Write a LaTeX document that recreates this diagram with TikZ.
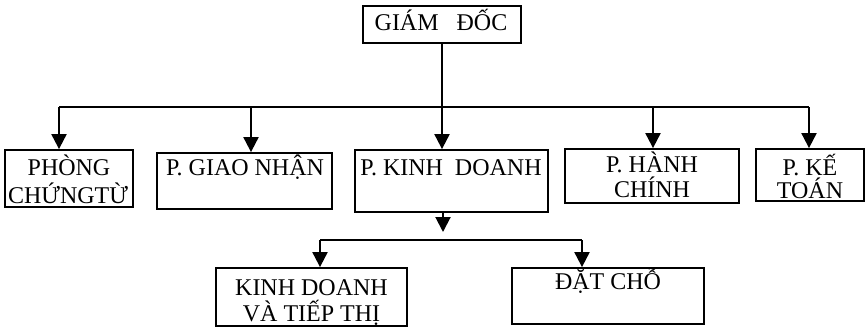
\documentclass[tikz,border=0pt]{standalone}
\usepackage{fontspec}
\setmainfont{Liberation Serif}
\usetikzlibrary{arrows.meta}
\tikzset{
  box/.style={draw, line width=1.8pt, rectangle, inner sep=0pt},
  lbl/.style={anchor=base, inner sep=0pt, font=\fontsize{24}{27}\selectfont},
  conn/.style={line width=2pt},
  arr/.style={line width=2pt, -{Triangle[width=15pt,length=15pt]}}
}
\begin{document}
\begin{tikzpicture}[x=1pt,y=-1pt]
\useasboundingbox (0,0) rectangle (866,327);
% boxes
\node[box, minimum width=158pt, minimum height=37pt] (gd) at (442,24.5) {};
\node[box, minimum width=128pt, minimum height=57pt] (pc) at (69,178.5) {};
\node[box, minimum width=175pt, minimum height=56pt] (gn) at (244.5,181) {};
\node[box, minimum width=193pt, minimum height=62pt] (kd) at (451.5,181) {};
\node[box, minimum width=174pt, minimum height=54pt] (hc) at (652,176) {};
\node[box, minimum width=108pt, minimum height=52pt] (kt) at (810,175) {};
\node[box, minimum width=191pt, minimum height=58pt] (kdtt) at (311.5,297) {};
\node[box, minimum width=192pt, minimum height=56pt] (dc) at (608,296) {};
% texts
\node[lbl] (tgd) at (441,30) {GIÁM\ \ \ ĐỐC};
\node[lbl] (tpc1) at (69,175) {PHÒNG};
\node[lbl] (tpc2) at (68,203) {CHỨNGTỪ};
\node[lbl] (tgn) at (245,175) {P. GIAO NHẬN};
\node[lbl] (tkd) at (451,175) {P. KINH\ \ DOANH};
\node[lbl] (thc1) at (652,172) {P. HÀNH};
\node[lbl] (thc2) at (652,197.5) {CHÍNH};
\node[lbl] (tkt1) at (810,175) {P. KẾ};
\node[lbl] (tkt2) at (810,198.5) {TOÁN};
\node[lbl] (tkdtt1) at (311.5,295) {KINH DOANH};
\node[lbl] (tkdtt2) at (311.5,321) {VÀ TIẾP THỊ};
\node[lbl] (tdc) at (608,289) {ĐẶT CHỖ};
% bus coordinates
\coordinate (j1) at (59,107);
\coordinate (j2) at (251,107);
\coordinate (j4) at (653,107);
\coordinate (j5) at (809,107);
\coordinate (k0) at (443,232);
\coordinate (s1) at (320,240);
\coordinate (s2) at (582,240);
% connectors
\draw[conn] (j1) -- (j5);
\draw[arr] (gd.south) -- (gd.south |- kd.north);
\draw[arr] (j1) -- (j1 |- pc.north);
\draw[arr] (j2) -- (j2 |- gn.north);
\draw[arr] (j4) -- (j4 |- hc.north);
\draw[arr] (j5) -- (j5 |- kt.north);
\draw[arr] (k0 |- kd.south) -- (k0);
\draw[conn] (s1) -- (s2);
\draw[arr] (s1) -- (s1 |- kdtt.north);
\draw[arr] (s2) -- (s2 |- dc.north);
\end{tikzpicture}
\end{document}
